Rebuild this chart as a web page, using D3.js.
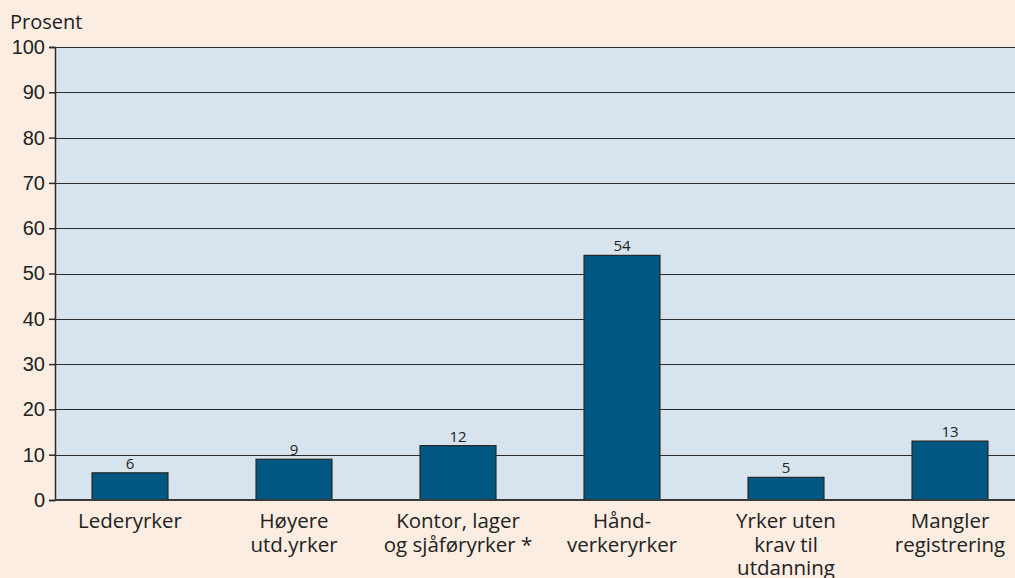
<!DOCTYPE html>
<html>
<head>
<meta charset="utf-8">
<script src="https://cdn.jsdelivr.net/npm/d3@7"></script>
<style>
  html, body { margin:0; padding:0; background:#fbede1; }
  svg { display:block; font-family:"Open Sans", "Noto Sans", sans-serif; }
</style>
</head>
<body>
<svg id="chart" width="1015" height="578"></svg>
<script>
const categories = [
  ["Lederyrker"],
  ["Høyere", "utd.yrker"],
  ["Kontor, lager", "og sjåføryrker *"],
  ["Hånd-", "verkeryrker"],
  ["Yrker uten", "krav til", "utdanning"],
  ["Mangler", "registrering"]
];
const values = [6, 9, 12, 54, 5, 13];
const yTicks = [0, 10, 20, 30, 40, 50, 60, 70, 80, 90, 100];
const yTitle = "Prosent";

const W = 1015, H = 578;
const plot = { left: 55, right: 1015, top: 47, bottom: 500 };

const svg = d3.select("#chart");

const x = d3.scaleBand()
  .domain(d3.range(values.length))
  .range([48, 1032])
  .paddingInner(0.537)
  .paddingOuter(0.2685);
const y = d3.scaleLinear().domain([0, 100]).range([plot.bottom, plot.top]);

// plot background
svg.append("rect")
  .attr("x", plot.left).attr("y", plot.top)
  .attr("width", plot.right - plot.left).attr("height", plot.bottom - plot.top)
  .attr("fill", "#d7e4ee");

// gridlines
svg.append("g").selectAll("line").data(yTicks.filter(t => t > 0)).enter().append("line")
  .attr("x1", plot.left).attr("x2", plot.right)
  .attr("y1", d => Math.round(y(d)) + 0.5).attr("y2", d => Math.round(y(d)) + 0.5)
  .attr("stroke", "#2b2b2b").attr("stroke-width", 1);

// y axis
const yAxis = svg.append("g").attr("transform", `translate(${plot.left},0)`)
  .call(d3.axisLeft(y).tickValues(yTicks).tickSize(6).tickPadding(4));
yAxis.select(".domain").attr("stroke", "#2b2b2b").attr("stroke-width", 1.5);
yAxis.selectAll(".tick line").attr("stroke", "#2b2b2b").attr("stroke-width", 1.5);
yAxis.selectAll(".tick text").attr("fill", "#222").style("font-size", "20px");

// bars
svg.append("g").selectAll("rect").data(values).enter().append("rect")
  .attr("x", (d, i) => x(i)).attr("width", x.bandwidth())
  .attr("y", d => y(d)).attr("height", d => y(0) - y(d))
  .attr("fill", "#005883").attr("stroke", "#262626").attr("stroke-width", 1.2);

// value labels
svg.append("g").selectAll("text").data(values).enter().append("text")
  .attr("x", (d, i) => x(i) + x.bandwidth() / 2).attr("y", d => y(d) - 4)
  .attr("text-anchor", "middle").attr("fill", "#222").style("font-size", "15px")
  .text(d => d);

// x axis baseline
svg.append("line")
  .attr("x1", plot.left).attr("x2", plot.right)
  .attr("y1", plot.bottom).attr("y2", plot.bottom)
  .attr("stroke", "#3a3a3a").attr("stroke-width", 2);

// category labels
const cat = svg.append("g").selectAll("text").data(categories).enter().append("text")
  .attr("text-anchor", "middle").attr("fill", "#222").style("font-size", "20.5px")
  .attr("transform", (d, i) => `translate(${x(i) + x.bandwidth() / 2},${plot.bottom + 28})`);
cat.selectAll("tspan").data(d => d).enter().append("tspan")
  .attr("x", 0).attr("y", (d, i) => i * 23.5)
  .text(d => d);

// y title
svg.append("text").attr("x", 10).attr("y", 29)
  .attr("fill", "#222").style("font-size", "20px").text(yTitle);
</script>
</body>
</html>
